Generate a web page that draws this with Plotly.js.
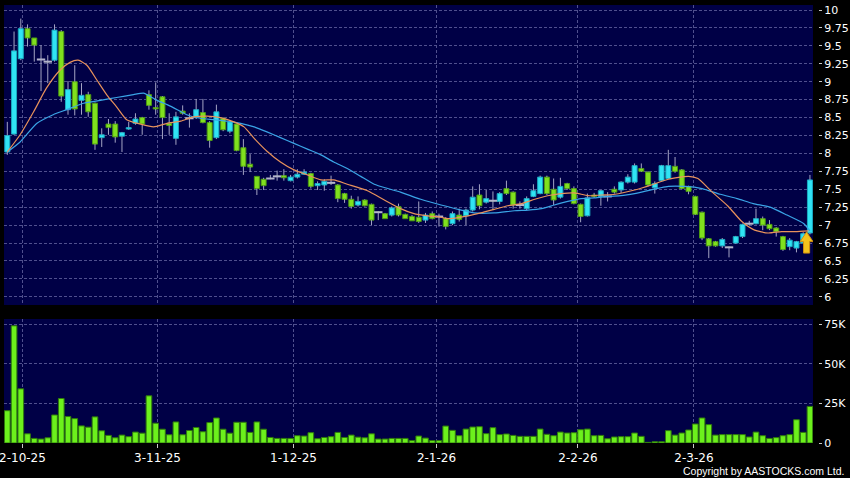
<!DOCTYPE html>
<html><head><meta charset="utf-8">
<script src="https://cdn.plot.ly/plotly-3.0.1.min.js"></script>
<style>html,body{margin:0;padding:0;background:#000;}#chart{width:850px;height:478px;}</style>
</head><body><div id="chart"></div>
<script>
// Date labels and the trading-day index at which each is placed
const tickLabels = ['2-10-25','3-11-25','1-12-25','2-1-26','2-2-26','2-3-26'];
const tickIndex = [2.25, 22.27, 42.43, 63.63, 84.6, 101.8];

// Daily OHLC (120 trading days)
const opens = [8.02,8.27,9.32,9.74,9.61,9.31,9.28,9.30,9.70,8.61,
9.00,8.74,8.82,8.70,8.22,8.41,8.41,8.24,8.34,8.42,
8.50,8.82,8.64,8.79,8.42,8.21,8.59,8.49,8.50,8.57,
8.43,8.22,8.49,8.31,8.41,8.08,7.85,7.68,7.64,7.65,
7.68,7.69,7.62,7.67,7.71,7.72,7.55,7.56,7.59,7.56,
7.44,7.36,7.28,7.35,7.29,7.18,7.16,7.14,7.26,7.15,
7.12,7.11,7.07,7.16,7.12,7.09,7.02,7.14,7.13,7.21,
7.42,7.32,7.34,7.33,7.51,7.46,7.28,7.23,7.40,7.44,
7.67,7.50,7.39,7.58,7.51,7.29,7.13,7.42,7.40,7.40,
7.50,7.49,7.60,7.60,7.79,7.74,7.52,7.62,7.65,7.82,
7.77,7.54,7.40,7.18,6.81,6.77,6.71,6.69,6.75,6.84,
7.02,7.02,7.09,7.01,6.96,6.84,6.70,6.68,6.75,6.89];
const highs = [8.44,9.70,9.88,9.80,9.61,9.51,9.37,9.80,9.72,9.01,
9.23,8.98,8.86,8.71,8.35,8.48,8.45,8.30,8.44,8.56,
8.51,8.88,8.99,8.80,8.56,8.58,8.67,8.56,8.76,8.76,
8.45,8.68,8.50,8.45,8.41,8.20,7.99,7.68,7.66,7.70,
7.76,7.78,7.70,7.78,7.78,7.73,7.61,7.64,7.69,7.57,
7.45,7.41,7.40,7.36,7.30,7.19,7.17,7.26,7.30,7.16,
7.14,7.33,7.17,7.19,7.16,7.11,7.19,7.23,7.23,7.54,
7.57,7.49,7.47,7.46,7.62,7.47,7.33,7.40,7.57,7.69,
7.69,7.65,7.66,7.59,7.54,7.30,7.44,7.45,7.49,7.46,
7.54,7.61,7.71,7.86,7.86,7.75,7.61,7.84,8.05,7.95,
7.78,7.55,7.41,7.19,6.82,6.78,6.82,6.70,6.85,7.02,
7.06,7.23,7.12,7.07,6.97,6.85,6.82,6.78,6.90,7.70];
const lows = [7.98,8.26,9.30,9.49,9.28,8.87,8.98,9.28,8.72,8.54,
8.53,8.54,8.51,8.05,8.09,8.26,8.15,8.02,8.33,8.40,
8.26,8.61,8.54,8.20,8.26,8.12,8.54,8.36,8.48,8.42,
8.08,8.20,8.31,8.28,8.03,7.70,7.74,7.42,7.49,7.64,
7.62,7.62,7.61,7.65,7.70,7.51,7.49,7.48,7.56,7.32,
7.31,7.23,7.26,7.26,7.00,7.07,7.09,7.12,7.12,7.09,
7.06,7.03,7.03,7.08,6.98,6.94,7.00,7.05,7.00,7.19,
7.22,7.30,7.21,7.29,7.42,7.23,7.23,7.21,7.39,7.43,
7.42,7.28,7.37,7.49,7.29,7.04,7.12,7.38,7.27,7.33,
7.44,7.45,7.58,7.58,7.74,7.54,7.44,7.61,7.64,7.73,
7.50,7.43,7.14,6.79,6.54,6.70,6.68,6.55,6.74,6.82,
7.00,7.01,6.93,6.93,6.84,6.64,6.65,6.62,6.74,6.87];
const closes = [8.25,9.43,9.74,9.61,9.51,9.31,9.28,9.72,8.80,8.89,
8.62,8.81,8.58,8.13,8.26,8.36,8.23,8.29,8.36,8.48,
8.41,8.67,8.62,8.50,8.39,8.51,8.56,8.49,8.61,8.43,
8.18,8.58,8.33,8.44,8.04,7.82,7.81,7.51,7.55,7.65,
7.68,7.66,7.67,7.71,7.74,7.54,7.58,7.61,7.59,7.37,
7.36,7.26,7.33,7.27,7.07,7.18,7.09,7.24,7.14,7.09,
7.06,7.05,7.14,7.09,7.12,6.98,7.16,7.08,7.21,7.39,
7.27,7.37,7.34,7.44,7.44,7.28,7.28,7.37,7.48,7.67,
7.44,7.35,7.54,7.51,7.30,7.12,7.38,7.40,7.48,7.40,
7.46,7.60,7.67,7.83,7.75,7.56,7.58,7.83,7.83,7.75,
7.51,7.47,7.15,6.82,6.71,6.71,6.80,6.69,6.84,7.01,
7.02,7.09,7.00,6.95,6.91,6.66,6.79,6.77,6.88,7.63];
// Daily volume, thousands of shares
const volumes = [20.4,74,34.2,5.8,2.9,2.5,3.3,17.7,28.1,16.7,
15.4,10.8,10.0,16.5,7.7,4.8,3.3,5.0,4.0,6.9,
6.2,29.8,12.5,8.7,5.2,13.3,5.2,7.9,9.8,7.1,
12.9,15.8,8.7,6.2,13.1,13.1,6.7,13.3,8.7,3.5,
2.9,2.9,2.9,4.6,4.4,6.5,2.7,3.5,4.0,6.7,
3.5,5.0,3.7,3.3,5.8,2.5,2.5,2.9,2.9,2.9,
1.5,4.4,3.1,1.5,1.5,10.7,8.0,4.6,8.8,10.1,
10.3,5.9,9.7,5.3,5.7,4.8,4.2,4.2,4.2,8.8,
5.5,4.6,6.9,6.3,6.5,8.4,8.8,4.6,4.8,2.7,
3.8,4.0,4.0,6.3,4.2,0.4,0.8,0.8,7.8,5.0,
6.3,8.2,12.0,15.8,11.6,5.0,5.3,5.3,5.3,5.3,
3.8,6.9,4.6,2.9,3.4,4.6,5.3,14.7,6.7,23.1];

// Moving averages (trading-day index, value)
const ma10Idx = [0,1.9,3.9,5.8,7.8,9.3,10.5,11.8,13.3,14.8,16.2,17.7,19.7,21.7,23.7,25.7,27.6,29.6,31.6,33.6,35.1,36.6,38.5,40.5,42.5,44.5,46.5,48.4,50.4,53.4,55.9,58.3,60.3,62.3,64.3,65.3,68.3,70.2,72.2,74.2,76.2,78.2,80.1,82.1,84.1,86.1,88.1,90.1,93.0,95.5,98,101,102.4,104.4,106.9,108.9,110.8,112.8,114.8,116.8,118.8];
const ma10Val = [8.02,8.26,8.58,8.91,9.16,9.27,9.30,9.23,9.02,8.81,8.65,8.47,8.41,8.37,8.42,8.45,8.51,8.52,8.50,8.44,8.37,8.21,8.03,7.88,7.77,7.70,7.63,7.63,7.57,7.48,7.35,7.23,7.16,7.13,7.11,7.09,7.13,7.17,7.22,7.27,7.30,7.36,7.41,7.44,7.45,7.41,7.42,7.43,7.49,7.56,7.64,7.68,7.65,7.47,7.26,7.05,6.93,6.89,6.91,6.91,6.92];
const ma20Idx = [0,1.9,4.4,6.8,8.8,11.3,13.8,16.2,18.7,20.2,20.9,22.2,23.7,25.2,26.6,28.6,30.6,32.6,34.6,36.6,38.5,40.5,42.5,44.5,46.5,48.4,50.4,52.4,54.4,56.4,58.3,61.3,64.3,67.3,69.2,72.2,75.2,77.2,79.2,81.1,83.1,85.1,87.1,89.1,91.0,93.0,98,100.5,103,105.7,108.2,110.6,113.1,115.6,118.1,119];
const ma20Val = [8.02,8.16,8.42,8.54,8.61,8.70,8.74,8.78,8.82,8.84,8.81,8.74,8.68,8.61,8.54,8.49,8.47,8.45,8.42,8.37,8.30,8.22,8.14,8.06,7.98,7.88,7.79,7.68,7.57,7.51,7.46,7.36,7.28,7.21,7.17,7.17,7.20,7.21,7.23,7.28,7.33,7.37,7.38,7.40,7.41,7.44,7.54,7.54,7.51,7.43,7.37,7.30,7.25,7.14,7.02,6.92];

const priceTicks = [6,6.25,6.5,6.75,7,7.25,7.5,7.75,8,8.25,8.5,8.75,9,9.25,9.5,9.75,10];
const volTicks = [0,25,50,75];
const volTickText = ['0','25K','50K','75K'];

// ---- build traces ----
const CYAN = '#30e4f4', CYAN_EDGE = '#1aa9c0';
const GREEN = '#80e01e', GREEN_EDGE = '#4c9a12';
const WICK = '#a4a4c4';
const n = opens.length;
const xs = opens.map((_, i) => i);
const bodyBase = [], bodyH = [], bodyCol = [], bodyEdge = [];
const wx = [], wy = [];
const dojiX = [], dojiY = [];
for (let i = 0; i < n; i++) {
  const o = opens[i], c = closes[i];
  const top = Math.max(o, c), bot = Math.min(o, c);
  bodyBase.push(bot);
  bodyH.push(top - bot);
  bodyCol.push(c > o ? CYAN : GREEN);
  bodyEdge.push(c > o ? CYAN_EDGE : GREEN_EDGE);
  if (highs[i] > top) { wx.push(i, i, null); wy.push(highs[i], top, null); }
  if (lows[i] < bot) { wx.push(i, i, null); wy.push(bot, lows[i], null); }
  if (c === o) { dojiX.push(i); dojiY.push(o); }
}

const traces = [
  { type: 'bar', x: xs, y: volumes, xaxis: 'x', yaxis: 'y2', width: 0.84,
    marker: { color: '#6cf01c', line: { color: '#2f7a0c', width: 1 } }, hoverinfo: 'skip' },
  { type: 'bar', x: xs, y: bodyH, base: bodyBase, xaxis: 'x', yaxis: 'y', width: 0.74,
    marker: { color: bodyCol, line: { color: bodyEdge, width: 1 } }, hoverinfo: 'skip' },
  { type: 'scatter', mode: 'lines', x: wx, y: wy, xaxis: 'x', yaxis: 'y',
    line: { color: WICK, width: 1 }, connectgaps: false, hoverinfo: 'skip' },
  { type: 'scatter', mode: 'markers', x: dojiX, y: dojiY, xaxis: 'x', yaxis: 'y',
    marker: { symbol: 'line-ew', size: 6, line: { color: '#b4b4cc', width: 2 } }, hoverinfo: 'skip' },
  { type: 'scatter', mode: 'lines', x: ma20Idx, y: ma20Val, xaxis: 'x', yaxis: 'y',
    line: { color: '#3aa4e6', width: 1.2, shape: 'spline', smoothing: 0.6 }, hoverinfo: 'skip' },
  { type: 'scatter', mode: 'lines', x: ma10Idx, y: ma10Val, xaxis: 'x', yaxis: 'y',
    line: { color: '#e8925c', width: 1.2, shape: 'spline', smoothing: 0.6 }, hoverinfo: 'skip' }
];

const GRID = '#50508e';
const yCommon = {
  side: 'right', anchor: 'free', position: 0.9975, ticks: 'outside', ticklen: 3,
  tickcolor: '#c8c8c8', tickwidth: 1, showline: false, zeroline: false,
  showgrid: true, gridcolor: GRID, gridwidth: 1, griddash: '3px,2px',
  tickfont: { family: 'DejaVu Sans', size: 11, color: '#ffffff' }, fixedrange: true
};

const layout = {
  width: 850, height: 478,
  margin: { l: 4, r: 30, t: 5, b: 35, pad: 0 },
  paper_bgcolor: '#000000', plot_bgcolor: '#000046',
  showlegend: false, bargap: 0, barmode: 'overlay',
  xaxis: {
    domain: [0, 0.9914], range: [-0.49, 119.45], anchor: 'y2',
    tickmode: 'array', tickvals: tickIndex, ticktext: tickLabels,
    ticks: 'outside', ticklen: 4, tickcolor: '#c8c8c8',
    tickfont: { family: 'DejaVu Sans', size: 12, color: '#ffffff' },
    showgrid: true, gridcolor: GRID, gridwidth: 1, griddash: '3px,2px',
    zeroline: false, showline: false, ticklabeloverflow: 'allow', fixedrange: true
  },
  yaxis: Object.assign({}, yCommon, {
    domain: [0.3151, 1], range: [5.886, 10.07],
    tickmode: 'array', tickvals: priceTicks, ticktext: priceTicks.map(String)
  }),
  yaxis2: Object.assign({}, yCommon, {
    domain: [0, 0.2831], range: [0, 78.3],
    tickmode: 'array', tickvals: volTicks, ticktext: volTickText
  }),
  shapes: [{
    type: 'path', xref: 'x', yref: 'y', layer: 'above',
    path: 'M117.55,6.77 L118.5,6.905 L119.45,6.77 L118.95,6.77 L118.95,6.61 L118.05,6.61 L118.05,6.77 Z',
    fillcolor: '#f4c41c', line: { color: '#d08e10', width: 1 }
  }],
  annotations: [{
    text: 'Copyright by AASTOCKS.com Ltd.', xref: 'paper', yref: 'paper',
    x: 1.0319, y: -0.0639, xanchor: 'right', yanchor: 'middle', showarrow: false,
    font: { family: 'Liberation Sans', size: 10.5, color: '#ffffff' }
  }]
};

Plotly.newPlot('chart', traces, layout, { displayModeBar: false, staticPlot: true });
</script>
</body></html>
